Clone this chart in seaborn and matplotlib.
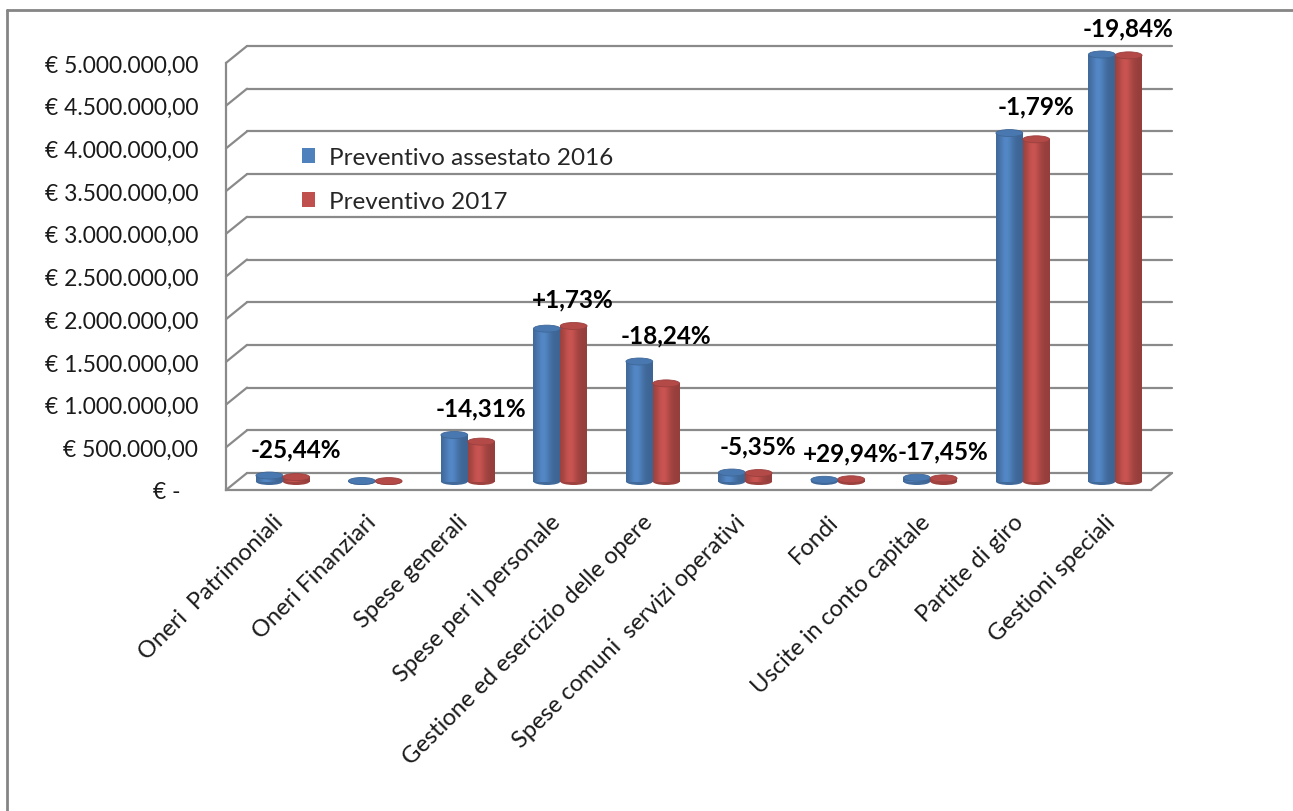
import numpy as np
import pandas as pd
import matplotlib
matplotlib.use("Agg")
import matplotlib.pyplot as plt
import seaborn as sns
from matplotlib.patches import Ellipse
from matplotlib.lines import Line2D
from matplotlib.colors import to_rgb

# ---------------- data ----------------
categories = [
    "Oneri  Patrimoniali",
    "Oneri Finanziari",
    "Spese generali",
    "Spese per il personale",
    "Gestione ed esercizio delle opere",
    "Spese comuni  servizi operativi",
    "Fondi",
    "Uscite in conto capitale",
    "Partite di giro",
    "Gestioni speciali",
]
series = ["Preventivo assestato 2016", "Preventivo 2017"]
prev_2016 = [70000, 6000, 545000, 1790000, 1405000, 105000, 20000, 45000, 4080000, 5000000]
prev_2017 = [52000, 5000, 467000, 1821000, 1149000, 99000, 26000, 37000, 4007000, 4990000]
variations = ["-25,44%", "", "-14,31%", "+1,73%", "-18,24%", "-5,35%",
              "+29,94%", "-17,45%", "-1,79%", "-19,84%"]
y_ticks = [0, 500000, 1000000, 1500000, 2000000, 2500000,
           3000000, 3500000, 4000000, 4500000, 5000000]
y_tick_labels = ["€ -   ", "€ 500.000,00", "€ 1.000.000,00", "€ 1.500.000,00",
                 "€ 2.000.000,00", "€ 2.500.000,00", "€ 3.000.000,00",
                 "€ 3.500.000,00", "€ 4.000.000,00", "€ 4.500.000,00",
                 "€ 5.000.000,00"]

df = pd.DataFrame({
    "categoria": categories * 2,
    "serie": [series[0]] * len(categories) + [series[1]] * len(categories),
    "valore": prev_2016 + prev_2017,
})

# ---------------- style ----------------
sns.set_theme(style="white")
plt.rcParams["font.family"] = ["Lato", "DejaVu Sans"]

BLUE = "#4F81BD"
RED = "#C0504D"
GRID = "#8a8a8a"
W, H = 1293, 812
YMAX = 5000000

fig = plt.figure(figsize=(W / 100, H / 100), dpi=100)
fig.patch.set_facecolor("white")


def px_axes(x0, y_top, x1, y_bottom):
    return fig.add_axes([x0 / W, 1 - y_bottom / H, (x1 - x0) / W, (y_bottom - y_top) / H])


FX0, FX1, FYT, FYB = 226, 1151, 64, 491       # front plane of the plot
DEPX, DEPY = 21, 17                            # 3-D depth in pixels
DX = DEPX / ((FX1 - FX0) / len(categories))
DY = DEPY / (FYB - FYT) * YMAX

# back wall (gridlines)
ax_back = px_axes(FX0 + DEPX, FYT - DEPY, FX1 + DEPX, FYB - DEPY)
ax_back.set_xlim(-0.5, len(categories) - 0.5)
ax_back.set_ylim(0, YMAX)
for t in y_ticks:
    ax_back.axhline(t, color=GRID, lw=1.6, clip_on=False)
ax_back.axis("off")

# front plane: axes, ticks, labels
ax = px_axes(FX0, FYT, FX1, FYB)
ax.set_facecolor("none")
ax.set_xlim(-0.5, len(categories) - 0.5)
ax.set_ylim(0, YMAX)
for s in ["top", "right"]:
    ax.spines[s].set_visible(False)
for s in ["left", "bottom"]:
    ax.spines[s].set_color(GRID)
    ax.spines[s].set_linewidth(1.6)
ax.set_yticks(y_ticks)
ax.set_yticklabels(y_tick_labels, fontsize=16.5, color="#1a1a1a")
ax.tick_params(axis="y", direction="out", length=5, width=1.6, color=GRID, pad=15)
ax.set_xticks(range(len(categories)))
ax.set_xticklabels(categories, rotation=45, ha="right", rotation_mode="anchor",
                   fontsize=17, color="#1a1a1a")
ax.tick_params(axis="x", which="major", length=0, pad=15)
ax.set_xticks(np.arange(-0.5, len(categories)), minor=True)
ax.tick_params(axis="x", which="minor", direction="out", length=8, width=1.6, color=GRID)
for t in y_ticks:
    ax.plot([-0.5, -0.5 + DX], [t, t + DY], color=GRID, lw=1.6, clip_on=False)
ax.plot([len(categories) - 0.5, len(categories) - 0.5 + DX], [0, DY],
        color=GRID, lw=1.6, clip_on=False)
ax.set_xlabel("")
ax.set_ylabel("")

# bars at mid depth
ax_bar = px_axes(FX0 + DEPX / 2, FYT - DEPY / 2, FX1 + DEPX / 2, FYB - DEPY / 2)
ax_bar.set_facecolor("none")
sns.barplot(data=df, x="categoria", y="valore", hue="serie", order=categories,
            hue_order=series, palette=[BLUE, RED], width=0.58, gap=0,
            saturation=1, legend=False, ax=ax_bar, zorder=3)
ax_bar.set_xlim(-0.5, len(categories) - 0.5)
ax_bar.set_ylim(0, YMAX)

ELL_H = 7 / ((FYB - FYT) / YMAX)
tt = np.linspace(0, 1, 64)
shade = 0.78 + 0.27 * np.exp(-((tt - 0.38) / 0.27) ** 2)
for cont in ax_bar.containers:
    for p in cont:
        x, w, h = p.get_x(), p.get_width(), p.get_height()
        base = np.array(to_rgb(p.get_facecolor()))
        grad = np.clip(base[None, :] * shade[:, None], 0, 1)[None, :, :]
        ax_bar.imshow(grad, extent=[x, x + w, 0, h], aspect="auto",
                      interpolation="bilinear", zorder=4, clip_on=False)
        ax_bar.add_patch(Ellipse((x + w / 2, 0), w, ELL_H, facecolor=base * 0.82,
                                 edgecolor="none", zorder=3.5, clip_on=False))
        ax_bar.add_patch(Ellipse((x + w / 2, h), w, ELL_H, facecolor=np.clip(base * 0.93, 0, 1),
                                 edgecolor=base * 0.8, lw=0.6, zorder=5, clip_on=False))
        p.set_visible(False)
ax_bar.set_xlim(-0.5, len(categories) - 0.5)
ax_bar.set_ylim(0, YMAX)
ax_bar.axis("off")

for i, lab in enumerate(variations):
    if lab:
        top = max(prev_2016[i], prev_2017[i])
        ax_bar.annotate(lab, (i + 0.14, top), xytext=(0, 11), textcoords="offset points",
                        ha="center", va="bottom", fontsize=17.5, fontweight="bold",
                        color="black", annotation_clip=False, zorder=6)

# legend
handles = [ax_bar.containers[0][0], ax_bar.containers[1][0]]
for hnd in handles:
    hnd.set_visible(True)
leg = fig.legend(handles, series, loc="upper left",
                 bbox_to_anchor=(302 / W, 1 - 148 / H), frameon=False,
                 fontsize=17.5, handlelength=0.55, handleheight=0.6,
                 handletextpad=0.55, labelspacing=0.95, borderpad=0, borderaxespad=0)
for hnd in handles:
    hnd.set_visible(False)
for lh, c in zip(leg.legend_handles, [BLUE, RED]):
    lh.set_visible(True)
    lh.set_facecolor(c)
    lh.set_edgecolor("none")

# outer chart border (left and top edge visible)
fig.add_artist(Line2D([7 / W, 7 / W], [0, 1 - 11 / H], transform=fig.transFigure,
                      color="#858585", lw=2))
fig.add_artist(Line2D([7 / W, 1], [1 - 11 / H, 1 - 11 / H], transform=fig.transFigure,
                      color="#858585", lw=2))

fig.savefig("out.png", dpi=100)
